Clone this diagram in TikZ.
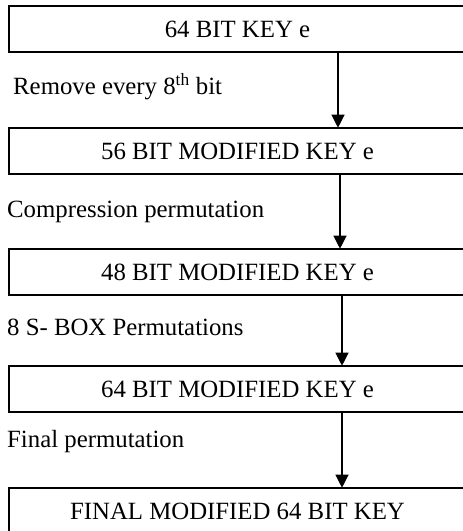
\documentclass[tikz,border=0pt]{standalone}
\usepackage{fontspec}
\setmainfont{Liberation Serif}
\usetikzlibrary{arrows.meta}
\tikzset{
  keybox/.style={draw, line width=1.6pt, minimum width=457pt, minimum height=46pt, inner sep=0pt, font=\fontsize{24.8}{28}\selectfont},
  steplabel/.style={anchor=west, inner sep=0pt, font=\fontsize{24.8}{28}\selectfont},
  arr/.style={line width=1.2pt, -{Triangle[width=13pt,length=13pt]}, shorten >=-0.5pt}
}
\begin{document}
\begin{tikzpicture}[x=1pt,y=-1pt]
\useasboundingbox (0,0) rectangle (463,531);
\clip (0,0) rectangle (463,531);
\node[keybox] (b1) at (237.5,29) {64 BIT KEY e};
\node[keybox] (b2) at (237.5,151) {56 BIT MODIFIED KEY e};
\node[keybox] (b3) at (237.5,272) {48 BIT MODIFIED KEY e};
\node[keybox] (b4) at (237.5,389) {64 BIT MODIFIED KEY e};
\node[keybox] (b5) at (237.5,511) {FINAL MODIFIED 64 BIT KEY};
\coordinate (a1) at (338,0);
\coordinate (a2) at (340,0);
\coordinate (a3) at (342,0);
\coordinate (a4) at (342,0);
\draw[arr] (b1.south -| a1) -- (b2.north -| a1);
\draw[arr] (b2.south -| a2) -- (b3.north -| a2);
\draw[arr] (b3.south -| a3) -- (b4.north -| a3);
\draw[arr] (b4.south -| a4) -- (b5.north -| a4);
\node[steplabel] (l1) at (13,87) {Remove every 8\textsuperscript{th} bit};
\node[steplabel] (l2) at (7,212) {Compression permutation};
\node[steplabel] (l3) at (7,327) {8 S- BOX Permutations};
\node[steplabel] (l4) at (7,442) {Final permutation};
\end{tikzpicture}
\end{document}
